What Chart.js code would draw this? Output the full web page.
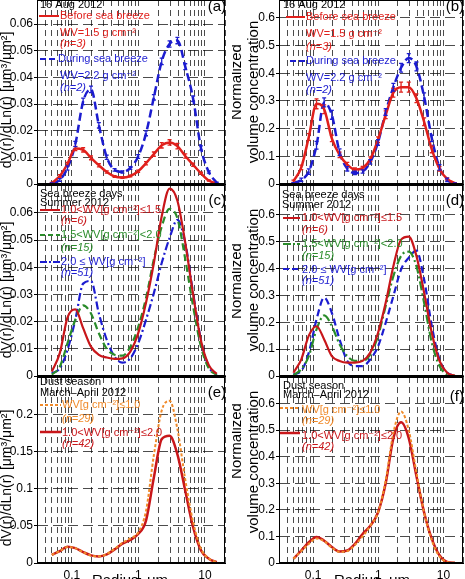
<!DOCTYPE html>
<html lang="en">
<head>
    <meta charset="UTF-8">
    <title>Volume size distributions</title>
    <script src="https://cdn.jsdelivr.net/npm/chart.js"></script>
    <style>
        body { margin: 0; background: #fff; }
        #wrap { position: relative; width: 465px; height: 579px; overflow: hidden; }
        #wrap canvas { position: absolute; }
    </style>
</head>
<body>
<div id="wrap">
    <canvas id="pa"></canvas><canvas id="pb"></canvas>
    <canvas id="pc"></canvas><canvas id="pd"></canvas>
    <canvas id="pe"></canvas><canvas id="pf"></canvas>
</div>
<script>
// radius bins (um)
const radius = [0.050, 0.066, 0.086, 0.113, 0.148, 0.194, 0.255, 0.335, 0.439, 0.576, 0.756,
                0.992, 1.302, 1.708, 2.241, 2.940, 3.857, 5.061, 6.641, 8.713, 11.432, 15.000];
// vertical grid positions and labelled radius ticks
const gridR = [0.03, 0.04, 0.05, 0.06, 0.07, 0.08, 0.09, 0.1, 0.2, 0.3, 0.4, 0.5, 0.6, 0.7, 0.8, 0.9,
               1, 2, 3, 4, 5, 6, 7, 8, 9, 10, 20];
const xLabels = [0.1, 1, 10];

// (a) 16 Aug 2012, dV/dlnr
const aBefore    = [0.0003, 0.0030, 0.0075, 0.0133, 0.0128, 0.0098, 0.0070, 0.0045, 0.0028, 0.0024, 0.0030,
                    0.0048, 0.0078, 0.0112, 0.0145, 0.0156, 0.0142, 0.0105, 0.0072, 0.0040, 0.0013, 0.0002];
const aBeforeErr = [0.0003, 0.0005, 0.0006, 0.0008, 0.0008, 0.0007, 0.0006, 0.0004, 0.0003, 0.0003, 0.0003,
                    0.0004, 0.0006, 0.0008, 0.0010, 0.0010, 0.0010, 0.0008, 0.0006, 0.0004, 0.0002, 0.0001];
const aDuring    = [0.0002, 0.0015, 0.0060, 0.0150, 0.0310, 0.0355, 0.0220, 0.0100, 0.0053, 0.0045, 0.0060,
                    0.0103, 0.0190, 0.0325, 0.0460, 0.0525, 0.0538, 0.0440, 0.0320, 0.0135, 0.0045, 0.0005];
const aDuringErr = [0.0002, 0.0005, 0.0008, 0.0010, 0.0012, 0.0012, 0.0010, 0.0008, 0.0005, 0.0004, 0.0005,
                    0.0007, 0.0009, 0.0010, 0.0012, 0.0012, 0.0012, 0.0011, 0.0010, 0.0008, 0.0004, 0.0002];
// (b) 16 Aug 2012, normalized
const bBefore    = [0.010, 0.060, 0.170, 0.290, 0.270, 0.165, 0.105, 0.070, 0.052, 0.058, 0.090,
                    0.160, 0.250, 0.330, 0.350, 0.350, 0.310, 0.225, 0.125, 0.055, 0.018, 0.003];
const bBeforeErr = [0.004, 0.008, 0.012, 0.018, 0.016, 0.012, 0.010, 0.008, 0.006, 0.006, 0.008,
                    0.010, 0.014, 0.016, 0.018, 0.018, 0.016, 0.014, 0.012, 0.008, 0.004, 0.002];
const bDuring    = [0.003, 0.015, 0.045, 0.140, 0.295, 0.250, 0.115, 0.055, 0.040, 0.045, 0.080,
                    0.150, 0.260, 0.350, 0.420, 0.455, 0.425, 0.315, 0.165, 0.060, 0.015, 0.002];
const bDuringErr = [0.002, 0.006, 0.010, 0.014, 0.016, 0.016, 0.012, 0.008, 0.006, 0.006, 0.008,
                    0.010, 0.012, 0.014, 0.016, 0.016, 0.016, 0.014, 0.012, 0.010, 0.006, 0.002];
// (c) sea breeze days, summer 2012, dV/dlnr
const cLow  = [0.0016, 0.0084, 0.0215, 0.0245, 0.0176, 0.0108, 0.0078, 0.0068, 0.0063, 0.0065, 0.0090,
               0.0157, 0.0270, 0.0416, 0.0588, 0.0690, 0.0645, 0.0490, 0.0300, 0.0130, 0.0040, 0.0008];
const cMid  = [0.0005, 0.0034, 0.0120, 0.0207, 0.0260, 0.0230, 0.0157, 0.0100, 0.0078, 0.0075, 0.0108,
               0.0180, 0.0287, 0.0430, 0.0550, 0.0615, 0.0580, 0.0430, 0.0256, 0.0108, 0.0028, 0.0004];
const cHigh = [0.0010, 0.0028, 0.0096, 0.0207, 0.0340, 0.0350, 0.0230, 0.0133, 0.0071, 0.0049, 0.0065,
               0.0120, 0.0207, 0.0305, 0.0416, 0.0508, 0.0575, 0.0490, 0.0305, 0.0133, 0.0034, 0.0004];
// (d) sea breeze days, summer 2012, normalized
const dLow  = [0.012, 0.062, 0.150, 0.185, 0.136, 0.074, 0.056, 0.050, 0.050, 0.056, 0.087,
               0.160, 0.272, 0.408, 0.507, 0.518, 0.446, 0.310, 0.160, 0.056, 0.012, 0.001];
const dMid  = [0.003, 0.025, 0.074, 0.173, 0.225, 0.186, 0.118, 0.074, 0.056, 0.056, 0.080,
               0.149, 0.260, 0.371, 0.446, 0.462, 0.408, 0.272, 0.124, 0.037, 0.006, 0.001];
const dHigh = [0.006, 0.019, 0.087, 0.210, 0.292, 0.235, 0.136, 0.056, 0.037, 0.037, 0.062,
               0.110, 0.198, 0.297, 0.396, 0.440, 0.466, 0.359, 0.186, 0.062, 0.012, 0.001];
// (e) dust season, March-April 2012, dV/dlnr
const eDry   = [0.011, 0.016, 0.0215, 0.020, 0.0145, 0.0100, 0.0090, 0.0120, 0.019, 0.027, 0.033,
                0.041, 0.070, 0.145, 0.205, 0.218, 0.180, 0.112, 0.055, 0.019, 0.006, 0.001];
const eMoist = [0.011, 0.016, 0.0220, 0.020, 0.0147, 0.0103, 0.0089, 0.0116, 0.0183, 0.026, 0.031,
                0.039, 0.057, 0.115, 0.1665, 0.171, 0.146, 0.097, 0.048, 0.017, 0.0058, 0.001];
// (f) dust season, normalized
const fDry   = [0.016, 0.045, 0.072, 0.092, 0.082, 0.058, 0.042, 0.045, 0.068, 0.100, 0.140,
                0.190, 0.310, 0.490, 0.570, 0.500, 0.340, 0.190, 0.085, 0.025, 0.004, 0.001];
const fMoist = [0.016, 0.047, 0.078, 0.098, 0.084, 0.060, 0.043, 0.047, 0.072, 0.109, 0.140,
                0.190, 0.300, 0.470, 0.530, 0.470, 0.327, 0.190, 0.091, 0.029, 0.004, 0.001];

const FONT = "Arial, 'Liberation Sans', 'DejaVu Sans', sans-serif";
const RED = '#e0201c', BLUE = '#1c1cd0', GREEN = '#2a8c2a', DRED = '#c8161a', ORANGE = '#f08a2a';
const LEFT_TITLE = 'dV(r)/dLn(r) [\u03bcm\u00b3/\u03bcm\u00b2]';

function ser(vals) { return radius.map((r, i) => ({x: r, y: vals[i]})); }

function line(label, vals, color, dash, width, errs) {
    return {
        label, data: ser(vals), errs,
        borderColor: color, borderWidth: width, borderDash: dash,
        pointRadius: 0, fill: false, cubicInterpolationMode: 'monotone'
    };
}

// frame, error bars, in-panel legends and axis titles
function deco(d) {
    return {
        id: 'deco',
        afterDatasetsDraw(chart) {
            const ctx = chart.ctx, a = chart.chartArea;
            const xs = chart.scales.x, ys = chart.scales.y;
            ctx.save();
            ctx.beginPath();
            ctx.rect(a.left, a.top, a.right - a.left, a.bottom - a.top);
            ctx.clip();
            chart.data.datasets.forEach(ds => {
                if (!ds.errs) return;
                ctx.strokeStyle = ds.borderColor;
                ctx.lineWidth = 1.3;
                ctx.setLineDash([]);
                ds.data.forEach((p, i) => {
                    const x = xs.getPixelForValue(p.x);
                    const y1 = ys.getPixelForValue(p.y - ds.errs[i]);
                    const y2 = ys.getPixelForValue(p.y + ds.errs[i]);
                    ctx.beginPath();
                    ctx.moveTo(x, y1); ctx.lineTo(x, y2);
                    ctx.moveTo(x - 2, y1); ctx.lineTo(x + 2, y1);
                    ctx.moveTo(x - 2, y2); ctx.lineTo(x + 2, y2);
                    ctx.stroke();
                });
            });
            ctx.restore();
        },
        afterDraw(chart) {
            const ctx = chart.ctx, a = chart.chartArea;
            ctx.save();
            ctx.setLineDash([]);
            ctx.strokeStyle = '#000';
            ctx.lineWidth = 1;
            ctx.strokeRect(Math.round(a.left) + 0.5, Math.round(a.top) + 0.5,
                           Math.round(a.right - a.left) - 1, Math.round(a.bottom - a.top) - 1);
            (d.keys || []).forEach(k => {
                ctx.strokeStyle = k.c;
                ctx.lineWidth = k.w || 2;
                ctx.setLineDash(k.dash || []);
                ctx.beginPath();
                ctx.moveTo(k.x1 - d.ox, k.y - d.oy);
                ctx.lineTo(k.x2 - d.ox, k.y - d.oy);
                ctx.stroke();
            });
            ctx.setLineDash([]);
            (d.texts || []).forEach(t => {
                ctx.save();
                ctx.fillStyle = t.c || '#000';
                ctx.font = (t.it ? 'italic ' : '') + (t.s || 11) + 'px ' + FONT;
                ctx.textAlign = t.al || 'left';
                ctx.textBaseline = t.bl || 'middle';
                ctx.translate(t.x - d.ox, t.y - d.oy);
                if (t.rot) ctx.rotate(-Math.PI / 2);
                ctx.fillText(t.t, 0, 0);
                ctx.restore();
            });
            ctx.restore();
        }
    };
}

function panel(id, p) {
    const cv = document.getElementById(id);
    cv.width = p.w; cv.height = p.h;
    cv.style.left = p.l + 'px'; cv.style.top = p.t + 'px';
    const tickFont = {size: 12, family: FONT};
    new Chart(cv, {
        type: 'line',
        data: {datasets: p.datasets},
        options: {
            responsive: false, animation: false, devicePixelRatio: 1,
            layout: {padding: {left: 0, top: p.pt, right: p.pr, bottom: p.pb}},
            plugins: {legend: {display: false}, tooltip: {enabled: false}},
            scales: {
                x: {
                    type: 'logarithmic', min: 0.03, max: 20,
                    afterBuildTicks: s => { s.ticks = gridR.map(v => ({value: v})); },
                    afterFit: s => { s.height = p.xh; s.paddingLeft = 0; s.paddingRight = 0; },
                    ticks: {
                        display: p.xh > 0, autoSkip: false, maxRotation: 0, padding: 5,
                        font: tickFont, color: '#000',
                        callback: v => xLabels.includes(v) ? String(v) : ''
                    },
                    grid: {color: 'rgba(0,0,0,0.7)', lineWidth: 1, drawTicks: false},
                    border: {display: true, color: '#000', dash: [6, 4]}
                },
                y: {
                    min: 0, max: p.ymax,
                    afterBuildTicks: s => { s.ticks = s.ticks.filter(t => t.value <= p.labMax + 1e-9); },
                    afterFit: s => { s.width = p.yw; s.paddingTop = 0; s.paddingBottom = 0; },
                    ticks: {
                        stepSize: p.step, includeBounds: false, padding: 1,
                        font: tickFont, color: '#000',
                        callback: v => String(+v.toFixed(3))
                    },
                    grid: {color: 'rgba(0,0,0,0.7)', lineWidth: 1, drawTicks: true, tickLength: 3, tickColor: '#000'},
                    border: {display: true, color: '#000', dash: [10, 5]}
                }
            }
        },
        plugins: [deco({ox: p.l, oy: p.t, keys: p.keys, texts: p.texts})]
    });
}

const rightTitle = (y1, y2) => [
    {t: 'Normalized', x: 237, y: y1, s: 15, rot: true, al: 'center'},
    {t: 'volume concentration', x: 254, y: y2, s: 15, rot: true, al: 'center'}
];

panel('pa', {
    l: 0, t: 0, w: 232, h: 192, yw: 37, pt: 0, pr: 7, pb: 8, xh: 0,
    ymax: 0.069, step: 0.01, labMax: 0.06,
    datasets: [line('Before sea breeze', aBefore, RED, [], 2.5, aBeforeErr),
               line('During sea breeze', aDuring, BLUE, [8, 4], 2.5, aDuringErr)],
    keys: [{x1: 39, x2: 59, y: 16, c: RED}, {x1: 40, x2: 57, y: 59, c: BLUE, dash: [6, 3]}],
    texts: [
        {t: '16 Aug 2012', x: 40, y: 5},
        {t: 'Before sea breeze', x: 60, y: 16, c: RED},
        {t: 'WV=1.5 g cm\u207b\u00b2', x: 60, y: 33, c: RED},
        {t: '(n=3)', x: 60, y: 44, c: RED, it: true},
        {t: 'During sea breeze', x: 58, y: 59, c: BLUE},
        {t: 'WV=2.2 g cm\u207b\u00b2', x: 60, y: 76, c: BLUE},
        {t: '(n=2)', x: 60, y: 88, c: BLUE, it: true},
        {t: '(a)', x: 226, y: 7, s: 15, al: 'right'},
        {t: LEFT_TITLE, x: 7, y: 100, s: 14, rot: true, al: 'center'}
    ]
});

panel('pb', {
    l: 232, t: 0, w: 233, h: 192, yw: 47, pt: 0, pr: 2, pb: 8, xh: 0,
    ymax: 0.665, step: 0.1, labMax: 0.6,
    datasets: [line('Before sea breeze', bBefore, RED, [], 2.5, bBeforeErr),
               line('During sea breeze', bDuring, BLUE, [8, 4], 2.5, bDuringErr)],
    keys: [{x1: 286, x2: 305, y: 17, c: RED}, {x1: 290, x2: 305, y: 61, c: BLUE, dash: [6, 3]}],
    texts: [
        {t: '16 Aug 2012', x: 283, y: 5},
        {t: 'Before sea breeze', x: 306, y: 17, c: RED},
        {t: 'WV=1.5 g cm\u207b\u00b2', x: 306, y: 34, c: RED},
        {t: '(n=3)', x: 306, y: 47, c: RED, it: true},
        {t: 'During sea breeze', x: 306, y: 61, c: BLUE},
        {t: 'WV=2.2 g cm\u207b\u00b2', x: 306, y: 78, c: BLUE},
        {t: '(n=2)', x: 306, y: 90, c: BLUE, it: true},
        {t: '(b)', x: 464, y: 7, s: 15, al: 'right'}
    ].concat(rightTitle(82, 92))
});

panel('pc', {
    l: 0, t: 180, w: 232, h: 205, yw: 37, pt: 5, pr: 7, pb: 9, xh: 0,
    ymax: 0.0703, step: 0.01, labMax: 0.06,
    datasets: [line('1.0<WV<=1.5', cLow, DRED, [], 2.2),
               line('1.5<WV<2.0', cMid, GREEN, [7, 4], 2.2),
               line('2.0<=WV', cHigh, BLUE, [8, 3, 2, 3], 2.2)],
    keys: [{x1: 40, x2: 60, y: 210, c: DRED},
           {x1: 40, x2: 60, y: 235, c: GREEN, dash: [5, 3]},
           {x1: 40, x2: 60, y: 262, c: BLUE, dash: [7, 2, 2, 2]}],
    texts: [
        {t: 'Sea breeze days', x: 40, y: 194},
        {t: 'Summer 2012', x: 40, y: 203},
        {t: '1.0<WV[g cm\u207b\u00b2]\u22641.5', x: 61, y: 210, c: DRED},
        {t: '(n=6)', x: 61, y: 221, c: DRED, it: true},
        {t: '1.5<WV[g cm\u207b\u00b2]<2.0', x: 61, y: 235, c: GREEN},
        {t: '(n=15)', x: 61, y: 248, c: GREEN, it: true},
        {t: '2.0 \u2264 WV[g cm\u207b\u00b2]', x: 61, y: 262, c: BLUE},
        {t: '(n=51)', x: 61, y: 273, c: BLUE, it: true},
        {t: '(c)', x: 226, y: 201, s: 15, al: 'right'},
        {t: LEFT_TITLE, x: 7, y: 290, s: 14, rot: true, al: 'center'}
    ]
});

panel('pd', {
    l: 232, t: 180, w: 233, h: 205, yw: 47, pt: 5, pr: 2, pb: 9, xh: 0,
    ymax: 0.71, step: 0.1, labMax: 0.6,
    datasets: [line('1.0<WV<=1.5', dLow, DRED, [], 2.2),
               line('1.5<WV<2.0', dMid, GREEN, [9, 3, 2, 3], 2.2),
               line('2.0<=WV', dHigh, BLUE, [7, 4], 2.2)],
    keys: [{x1: 283, x2: 300, y: 218, c: DRED},
           {x1: 283, x2: 300, y: 244, c: GREEN, dash: [8, 2, 2, 2]},
           {x1: 283, x2: 300, y: 269, c: BLUE, dash: [6, 3]}],
    texts: [
        {t: 'Sea breeze days', x: 282, y: 195},
        {t: 'Summer 2012', x: 282, y: 205},
        {t: '1.0<WV[g cm\u207b\u00b2]\u22641.5', x: 302, y: 218, c: DRED},
        {t: '(n=6)', x: 302, y: 230, c: DRED, it: true},
        {t: '1.5<WV[g cm\u207b\u00b2]<2.0', x: 302, y: 244, c: GREEN},
        {t: '(n=15)', x: 302, y: 256, c: GREEN, it: true},
        {t: '2.0 \u2264 WV[g cm\u207b\u00b2]', x: 302, y: 270, c: BLUE},
        {t: '(n=51)', x: 302, y: 281, c: BLUE, it: true},
        {t: '(d)', x: 464, y: 201, s: 15, al: 'right'}
    ].concat(rightTitle(281, 280))
});

panel('pe', {
    l: 0, t: 370, w: 232, h: 209, yw: 37, pt: 7, pr: 7, pb: 0, xh: 16,
    ymax: 0.25, step: 0.05, labMax: 0.2,
    datasets: [line('WV<=1.0', eDry, ORANGE, [3, 2], 2),
               line('1.0<WV<=2.0', eMoist, DRED, [], 2.5)],
    keys: [{x1: 40, x2: 61, y: 405, c: ORANGE, dash: [3, 2]},
           {x1: 40, x2: 61, y: 432, c: DRED, w: 2.5}],
    texts: [
        {t: 'Dust season', x: 40, y: 382},
        {t: 'March\u2013April 2012', x: 40, y: 393},
        {t: 'WV[g cm\u207b\u00b2]\u22641.0', x: 62, y: 405, c: ORANGE},
        {t: '(n=29)', x: 62, y: 419, c: ORANGE, it: true},
        {t: '1.0<WV[g cm\u207b\u00b2]\u22642.0', x: 62, y: 433, c: DRED},
        {t: '(n=42)', x: 62, y: 444, c: DRED, it: true},
        {t: '(e)', x: 226, y: 393, s: 15, al: 'right'},
        {t: LEFT_TITLE, x: 7, y: 478, s: 14, rot: true, al: 'center'},
        {t: 'Radius, \u03bcm', x: 130, y: 573, s: 15, al: 'center', bl: 'top'}
    ]
});

panel('pf', {
    l: 232, t: 370, w: 233, h: 209, yw: 47, pt: 7, pr: 2, pb: 0, xh: 16,
    ymax: 0.70, step: 0.1, labMax: 0.6,
    datasets: [line('WV<=1.0', fDry, ORANGE, [3, 2], 2),
               line('1.0<WV<=2.0', fMoist, DRED, [], 2.5)],
    keys: [{x1: 280, x2: 300, y: 408, c: ORANGE, dash: [3, 2]},
           {x1: 280, x2: 300, y: 433, c: DRED, w: 2.5}],
    texts: [
        {t: 'Dust season', x: 283, y: 386},
        {t: 'March\u2013April 2012', x: 283, y: 395},
        {t: 'WV[g cm\u207b\u00b2]\u22641.0', x: 302, y: 410, c: ORANGE},
        {t: '(n=29)', x: 302, y: 421, c: ORANGE, it: true},
        {t: '1.0<WV[g cm\u207b\u00b2]\u22642.0', x: 302, y: 436, c: DRED},
        {t: '(n=42)', x: 302, y: 447, c: DRED, it: true},
        {t: '(f)', x: 464, y: 397, s: 15, al: 'right'},
        {t: 'Radius, \u03bcm', x: 372, y: 573, s: 15, al: 'center', bl: 'top'}
    ].concat(rightTitle(441, 462))
});
</script>
</body>
</html>
